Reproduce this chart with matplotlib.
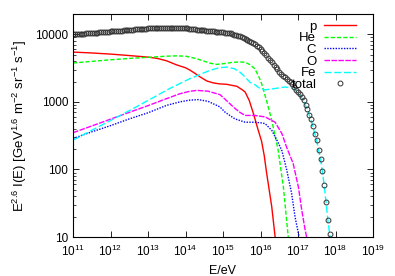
import matplotlib
matplotlib.use("Agg")
import matplotlib.pyplot as plt
import numpy as np

plt.rcParams['font.family'] = ['Liberation Sans', 'DejaVu Sans']
plt.rcParams['mathtext.fontset'] = 'custom'
plt.rcParams['mathtext.rm'] = 'Liberation Sans'
plt.rcParams['mathtext.it'] = 'Liberation Sans:italic'
plt.rcParams['mathtext.default'] = 'regular'

# Komponenty: log10(E/eV) a E^2.6 I(E)
p_logE = [11.0, 11.5, 12.0, 12.5, 13.0, 13.25, 13.5, 13.75, 14.0, 14.12, 14.25, 14.39,
          14.57, 14.74, 14.9, 15.1, 15.37, 15.5, 15.59, 15.7, 15.81, 15.94, 16.03,
          16.1, 16.16, 16.3, 16.39, 16.45]
p_val = [5460, 5300, 5100, 4850, 4600, 4400, 4050, 3550, 3200, 2950, 2650, 2340,
         2040, 1910, 1850, 1820, 1700, 1530, 1400, 1050, 675, 380, 260,
         160, 91, 28, 10, 6]

he_logE = [11.0, 11.5, 12.0, 12.5, 13.0, 13.5, 13.75, 14.0, 14.12, 14.3, 14.47, 14.65,
           14.83, 15.05, 15.25, 15.45, 15.6, 15.72, 15.85, 15.95, 16.03, 16.16, 16.3,
           16.47, 16.61, 16.74, 16.8]
he_val = [3760, 3980, 4200, 4400, 4560, 4750, 4800, 4750, 4600, 4350, 4050, 3750,
          3590, 3700, 3850, 3900, 3850, 3550, 3090, 2400, 1860, 1050, 535,
          193, 55, 10, 6]

c_logE = [11.0, 11.5, 12.0, 12.5, 13.0, 13.5, 13.85, 14.1, 14.34, 14.6, 14.92, 15.05,
          15.2, 15.32, 15.59, 15.85, 16.0, 16.12, 16.3, 16.47, 16.57, 16.7, 16.83,
          16.92, 17.03, 17.1]
c_val = [287, 360, 445, 560, 690, 890, 1000, 1060, 1080, 1020, 842, 708,
         620, 560, 500, 500, 490, 478, 380, 250, 190, 98, 44,
         20, 10, 6]

o_logE = [11.0, 11.5, 12.0, 12.5, 13.0, 13.5, 13.85, 14.1, 14.3, 14.6, 14.92, 15.05,
          15.2, 15.32, 15.45, 15.59, 15.85, 16.12, 16.39, 16.57, 16.7, 16.87, 17.01,
          17.1, 17.19, 17.23, 17.3]
o_val = [350, 440, 555, 700, 880, 1120, 1320, 1430, 1480, 1440, 1280, 1100,
         920, 800, 700, 630, 630, 600, 500, 340, 210, 123, 55,
         25, 12.7, 10, 6]

fe_logE = [11.0, 11.5, 12.0, 12.52, 13.0, 13.59, 14.12, 14.65, 14.9, 15.1, 15.3, 15.45,
           15.6, 15.72, 15.85, 15.99, 16.12, 16.25, 16.39, 16.65, 16.8, 16.92, 17.05,
           17.15, 17.25, 17.35, 17.45, 17.5, 17.55, 17.6, 17.65, 17.7, 17.75, 17.8,
           17.85, 17.9]
fe_val = [271, 380, 530, 752, 1050, 1590, 2210, 2930, 3200, 3280, 3100, 2760,
          2300, 1950, 1800, 1570, 1510, 1540, 1580, 1660, 1620, 1520, 1250,
          1020, 760, 535, 335, 265, 192, 143, 94, 57, 32, 17,
          10.5, 6]

# Celkový tok (body po 0.05 dekády od 10^11)
total_val = [
    10000, 10050, 10090, 10140, 10190, 10230, 10280, 10330, 10380, 10420,
    10470, 10520, 10590, 10640, 10690, 10760, 10810, 10860, 10910, 10990,
    11040, 11090, 11140, 11220, 11270, 11320, 11380, 11430, 11510, 11560,
    11610, 11670, 11720, 11800, 11860, 11910, 11970, 12020, 12110, 12160,
    12220, 12270, 12300, 12360, 12420, 12450, 12470, 12500, 12530, 12560,
    12590, 12590, 12590, 12590, 12590, 12590, 12530, 12470, 12420, 12360,
    12300, 12220, 12130, 12020, 11940, 11860, 11780, 11690, 11590, 11510,
    11430, 11350, 11270, 11190, 11140, 11070, 10990, 10910, 10840, 10790,
    10720, 10620, 10520, 10400, 10300, 10090, 9890, 9700, 9510, 9310,
    9120, 8830, 8550, 8280, 8020, 7760, 7410, 7080, 6760, 6460,
    6170, 5750, 5310, 4900, 4520, 4170, 3850, 3550, 3270, 3020,
    2790, 2630, 2450, 2320, 2190, 2070, 1995, 1820, 1660, 1510,
    1410, 1290, 1175, 1050, 912, 776, 646, 550, 437, 339,
    269, 195, 145, 95, 58, 33, 18, 11]
total_logE = 11.0 + 0.05 * np.arange(len(total_val))

series = [
    ('p', p_logE, p_val, '#ff0000', '-'),
    ('He', he_logE, he_val, '#00ff00', (0, (3, 1.5))),
    ('C', c_logE, c_val, '#0000ff', (0, (1, 1))),
    ('O', o_logE, o_val, '#ff00ff', (0, (4, 1))),
    ('Fe', fe_logE, fe_val, '#00ffff', (0, (5, 2))),
]

fig = plt.figure(figsize=(3.95, 2.76), dpi=100)
ax = fig.add_axes([73/395, 39/276, 300/395, 223/276])

for name, le, val, col, ls in series:
    ax.plot(10**np.array(le), val, color=col, linestyle=ls, lw=1.0, label=name)

ax.plot(10**total_logE, total_val, linestyle='none', marker='o', ms=3.5,
        mfc='none', mec='#333333', mew=0.7, label='total')

ax.set_xscale('log')
ax.set_yscale('log')
ax.set_xlim(1e11, 1e19)
ax.set_ylim(10, 20000)

ax.set_xticks([10.0**k for k in range(11, 20)])
ax.xaxis.set_minor_locator(matplotlib.ticker.NullLocator())
ax.set_yticks([10, 100, 1000, 10000])
ax.set_yticklabels(['10', '100', '1000', '10000'])

ax.tick_params(which='both', direction='in', top=True, right=True, labelsize=8.5)
ax.tick_params(axis='x', which='major', pad=5)
ax.tick_params(which='major', length=4, width=0.6)
ax.tick_params(which='minor', length=2, width=0.5)
for s in ax.spines.values():
    s.set_linewidth(0.8)

ax.set_xlabel('E/eV', fontsize=9, labelpad=4)
ax.set_ylabel('E$^{2.6}$ I(E) [GeV$^{1.6}$ m$^{-2}$ sr$^{-1}$ s$^{-1}$]', fontsize=9.5, labelpad=4)

ax.legend(loc='upper right', bbox_to_anchor=(0.965, 1.0), frameon=False,
          markerfirst=False, fontsize=9.5, handlelength=2.4, handletextpad=0.6,
          labelspacing=-0.05, borderaxespad=0.2, borderpad=0.3)

fig.savefig('out.png', dpi=100)
